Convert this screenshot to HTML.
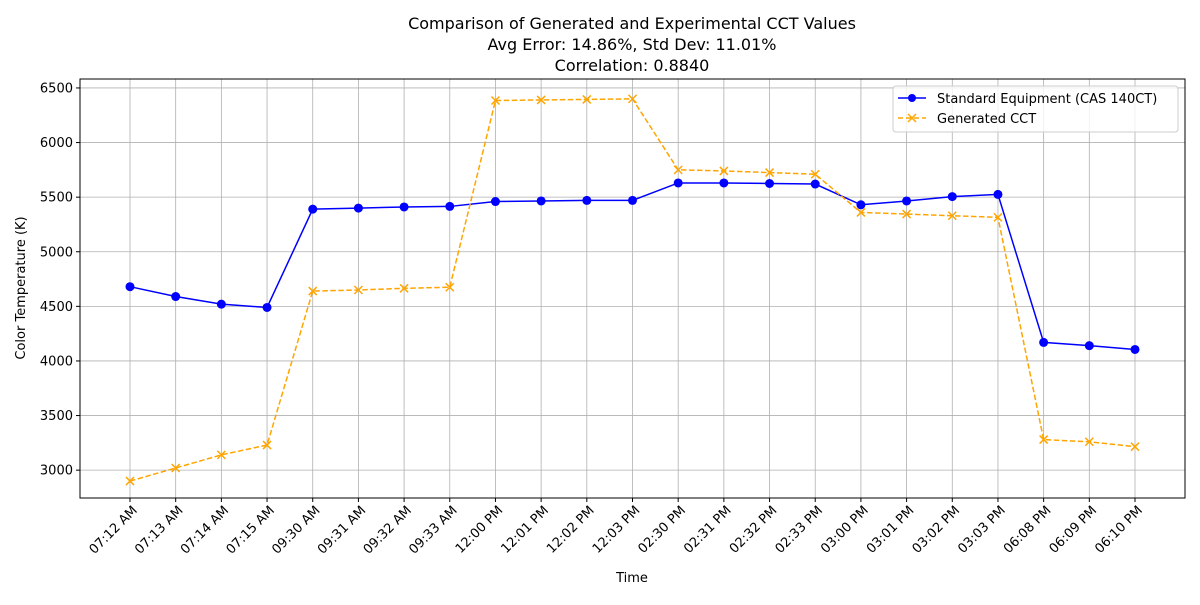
<!DOCTYPE html>
<html><head><meta charset="utf-8"><style>
body{margin:0;background:#fff;font-family:"Liberation Sans","DejaVu Sans",sans-serif}
</style></head><body>
<svg id="chart" width="1200" height="600" xmlns="http://www.w3.org/2000/svg" font-family="'DejaVu Sans','Liberation Sans',sans-serif">
<g font-size="16" text-anchor="middle" fill="#000">
<text x="632" y="29">Comparison of Generated and Experimental CCT Values</text>
<text x="632" y="50">Avg Error: 14.86%, Std Dev: 11.01%</text>
<text x="632" y="71">Correlation: 0.8840</text>
</g>
<g id="grid"></g><g id="axes"></g><g id="series"></g>
<text x="632" y="582" font-size="13" text-anchor="middle">Time</text>
<text transform="translate(25,288) rotate(-90)" font-size="13" text-anchor="middle">Color Temperature (K)</text>
<g>
<rect x="893" y="86" width="285" height="46" fill="#fff" fill-opacity="0.8" stroke="#ccc" rx="3"/>
<g>
<line x1="898" y1="98" x2="926" y2="98" stroke="blue" stroke-width="1.5"/><circle cx="912" cy="98" r="4" fill="blue"/>
<text x="937" y="103" font-size="13">Standard Equipment (CAS 140CT)</text></g>
<g>
<line x1="898" y1="118" x2="926" y2="118" stroke="orange" stroke-width="1.5" stroke-dasharray="5,3"/>
<path d="M908,114 l8,8 M916,114 l-8,8" stroke="orange" stroke-width="1.5"/>
<text x="937" y="123" font-size="13">Generated CCT</text></g>
</g>
</svg>
<script>
const categories=["07:12 AM","07:13 AM","07:14 AM","07:15 AM","09:30 AM","09:31 AM","09:32 AM","09:33 AM","12:00 PM","12:01 PM","12:02 PM","12:03 PM","02:30 PM","02:31 PM","02:32 PM","02:33 PM","03:00 PM","03:01 PM","03:02 PM","03:03 PM","06:08 PM","06:09 PM","06:10 PM"];
const standardValues=[4680,4590,4520,4490,5390,5400,5410,5415,5460,5465,5470,5470,5630,5630,5625,5620,5430,5465,5505,5525,4170,4140,4105];
const generatedValues=[2900,3020,3140,3230,4640,4650,4665,4675,6385,6390,6395,6400,5750,5740,5725,5710,5360,5345,5330,5315,3280,3260,3215];
const yTicks=[3000,3500,4000,4500,5000,5500,6000,6500];
const L=80,R=1185,T=79,B=498,yMin=2745,yMax=6582;
const NS="http://www.w3.org/2000/svg";
const xS=i=>130+i*(1135-130)/(categories.length-1);
const yS=v=>B-(v-yMin)/(yMax-yMin)*(B-T);
function mk(tag,attrs,parent){const e=document.createElementNS(NS,tag);for(const k in attrs)e.setAttribute(k,attrs[k]);parent.appendChild(e);return e;}
const grid=document.getElementById('grid'),axes=document.getElementById('axes'),series=document.getElementById('series');
categories.forEach((c,i)=>{const x=xS(i);
const g=mk('line',{x1:x,x2:x,y1:T,y2:B,stroke:'#b0b0b0','stroke-width':0.8},grid);


mk('line',{x1:x,x2:x,y1:B,y2:B+4,stroke:'#000'},axes);
const t=mk('text',{x:x+8,y:B+13,'font-size':13,'text-anchor':'end',transform:`rotate(-45 ${x+8} ${B+13})`},axes);
t.textContent=c;

});
yTicks.forEach(v=>{const y=yS(v);
const g=mk('line',{x1:L,x2:R,y1:y,y2:y,stroke:'#b0b0b0','stroke-width':0.8},grid);


mk('line',{x1:L-4,x2:L,y1:y,y2:y,stroke:'#000'},axes);
const t=mk('text',{x:L-7,y:y+4.5,'font-size':13,'text-anchor':'end'},axes);
t.textContent=v;

});
const fr=mk('rect',{x:L,y:T,width:R-L,height:B-T,fill:'none',stroke:'#000','stroke-width':1},axes);


const p1=mk('polyline',{points:standardValues.map((v,i)=>xS(i)+','+yS(v)).join(' '),fill:'none',stroke:'blue','stroke-width':1.5},series);


const p2=mk('polyline',{points:generatedValues.map((v,i)=>xS(i)+','+yS(v)).join(' '),fill:'none',stroke:'orange','stroke-width':1.5,'stroke-dasharray':'5.5,2.5'},series);


standardValues.forEach((v,i)=>{const c=mk('circle',{cx:xS(i),cy:yS(v),r:4.5,fill:'blue'},series);

});
generatedValues.forEach((v,i)=>{const x=xS(i),y=yS(v);
const m=mk('path',{d:`M${x-4},${y-4} L${x+4},${y+4} M${x+4},${y-4} L${x-4},${y+4}`,stroke:'orange','stroke-width':1.5},series);

});
</script>
</body></html>
